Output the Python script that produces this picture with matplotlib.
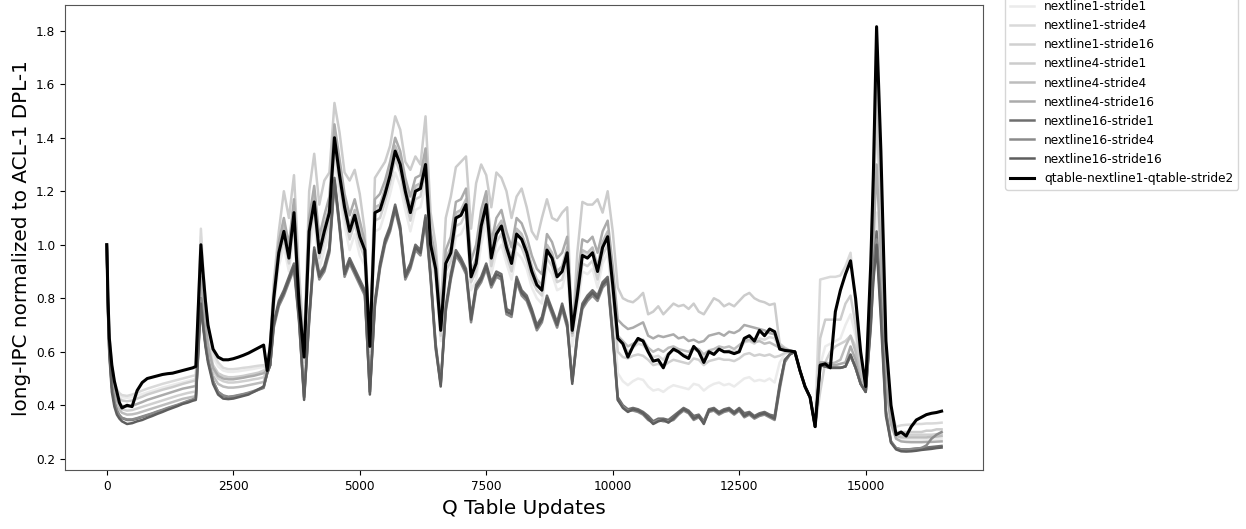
import numpy as np
import matplotlib
matplotlib.use("Agg")
import matplotlib.pyplot as plt

UPDATES = ([0, 25, 50, 100, 150, 200, 250] + list(range(300, 1800, 100)) + [1760]
           + [1860, 1900, 1950] + list(range(2000, 3200, 100)) + [3170]
           + [3230] + list(range(3300, 15200, 100))
           + [15150, 15215] + list(range(15300, 16600, 100)))

LABELS = ["nextline1-stride1", "nextline1-stride4", "nextline1-stride16",
          "nextline4-stride1", "nextline4-stride4", "nextline4-stride16",
          "nextline16-stride1", "nextline16-stride4", "nextline16-stride16",
          "qtable-nextline1-qtable-stride2"]

nl1_s1 = [
    1.0, 0.79, 0.66, 0.54, 0.48, 0.45, 0.435, 0.43, 0.428, 0.43, 0.436, 0.442, 0.448, 0.454, 0.46,
    0.466, 0.471, 0.476, 0.481, 0.486, 0.491, 0.496, 0.50,
    1.03, 0.90, 0.78, 0.68, 0.58, 0.545, 0.53, 0.525, 0.525, 0.527, 0.53, 0.533, 0.536, 0.54, 0.543, 0.53,
    0.60,
    0.76, 0.92, 0.99, 0.90, 1.05, 0.74, 0.55, 0.98, 1.09, 0.91,
    0.98, 1.05, 1.32, 1.18, 1.07, 0.98, 1.04, 0.96, 0.92, 0.58,
    1.05, 1.06, 1.12, 1.19, 1.27, 1.22, 1.13, 1.05, 1.13, 1.14,
    1.22, 0.94, 0.86, 0.64, 0.87, 0.91, 1.03, 1.04, 1.08, 0.83,
    0.87, 1.00, 1.08, 0.89, 0.97, 1.00, 0.93, 0.87, 0.97, 0.95,
    0.91, 0.84, 0.80, 0.78, 0.92, 0.89, 0.83, 0.84, 0.91, 0.62,
    0.76, 0.90, 0.89, 0.91, 0.84, 0.93, 0.97, 0.78, 0.52, 0.49,
    0.475, 0.49, 0.50, 0.495, 0.47, 0.455, 0.46, 0.45, 0.465, 0.475,
    0.47, 0.465, 0.46, 0.48, 0.475, 0.455, 0.47, 0.48, 0.485, 0.475,
    0.48, 0.47, 0.485, 0.50, 0.505, 0.49, 0.495, 0.49, 0.50, 0.485,
    0.56, 0.59, 0.60, 0.60, 0.53, 0.47, 0.43, 0.32, 0.55, 0.62,
    0.63, 0.64, 0.65, 0.70, 0.74, 0.66, 0.52, 0.46, 0.78,
    0.98, 1.12, 0.92, 0.47, 0.32, 0.28, 0.275, 0.273, 0.272, 0.272, 0.272, 0.273, 0.273, 0.274, 0.275]

nl1_s4 = [
    1.0, 0.80, 0.67, 0.55, 0.49, 0.46, 0.445, 0.438, 0.435, 0.44, 0.447, 0.455, 0.462, 0.468, 0.474,
    0.48, 0.485, 0.49, 0.495, 0.50, 0.505, 0.51, 0.512,
    1.06, 0.93, 0.80, 0.70, 0.60, 0.56, 0.54, 0.535, 0.535, 0.537, 0.54, 0.542, 0.545, 0.548, 0.55, 0.53,
    0.62,
    0.81, 0.98, 1.06, 0.96, 1.13, 0.79, 0.59, 1.06, 1.17, 0.98,
    1.06, 1.13, 1.41, 1.27, 1.15, 1.06, 1.12, 1.04, 0.99, 0.62,
    1.13, 1.14, 1.20, 1.27, 1.36, 1.31, 1.21, 1.13, 1.21, 1.22,
    1.31, 1.01, 0.92, 0.69, 0.94, 0.98, 1.11, 1.12, 1.16, 0.89,
    0.94, 1.08, 1.16, 0.96, 1.05, 1.08, 1.00, 0.94, 1.05, 1.03,
    0.98, 0.91, 0.86, 0.84, 0.99, 0.96, 0.89, 0.91, 0.98, 0.68,
    0.82, 0.97, 0.96, 0.98, 0.91, 1.00, 1.04, 0.86, 0.66, 0.63,
    0.60, 0.615, 0.63, 0.625, 0.60, 0.58, 0.585, 0.57, 0.595, 0.605,
    0.60, 0.59, 0.585, 0.61, 0.60, 0.575, 0.60, 0.595, 0.61, 0.60,
    0.605, 0.60, 0.605, 0.635, 0.64, 0.63, 0.65, 0.645, 0.655, 0.65,
    0.612, 0.606, 0.603, 0.60, 0.53, 0.47, 0.43, 0.32, 0.87, 0.875,
    0.88, 0.88, 0.885, 0.92, 0.97, 0.78, 0.55, 0.47, 0.92,
    1.3, 1.78, 1.3, 0.62, 0.38, 0.32, 0.325, 0.327, 0.328, 0.33, 0.33, 0.332, 0.332, 0.333, 0.335]

nl1_s16 = [
    1.0, 0.77, 0.63, 0.50, 0.44, 0.41, 0.395, 0.385, 0.38, 0.382, 0.388, 0.394, 0.40, 0.406, 0.412,
    0.418, 0.424, 0.43, 0.436, 0.441, 0.446, 0.45, 0.452,
    0.90, 0.80, 0.69, 0.61, 0.53, 0.50, 0.49, 0.485, 0.485, 0.487, 0.49, 0.493, 0.497, 0.50, 0.505, 0.53,
    0.61,
    0.78, 0.95, 1.02, 0.93, 1.09, 0.77, 0.56, 1.02, 1.13, 0.95,
    1.02, 1.09, 1.37, 1.23, 1.11, 1.02, 1.08, 1.00, 0.95, 0.60,
    1.09, 1.10, 1.16, 1.23, 1.32, 1.27, 1.17, 1.09, 1.17, 1.18,
    1.27, 0.97, 0.89, 0.66, 0.90, 0.94, 1.07, 1.08, 1.12, 0.86,
    0.90, 1.04, 1.12, 0.92, 1.01, 1.04, 0.96, 0.90, 1.01, 0.99,
    0.94, 0.87, 0.83, 0.81, 0.95, 0.92, 0.86, 0.87, 0.94, 0.66,
    0.79, 0.93, 0.92, 0.94, 0.87, 0.96, 1.00, 0.82, 0.60, 0.58,
    0.575, 0.585, 0.59, 0.585, 0.57, 0.55, 0.555, 0.545, 0.56, 0.57,
    0.565, 0.56, 0.555, 0.575, 0.57, 0.55, 0.565, 0.57, 0.575, 0.57,
    0.57, 0.565, 0.575, 0.59, 0.595, 0.585, 0.59, 0.585, 0.59, 0.58,
    0.585, 0.595, 0.60, 0.60, 0.53, 0.47, 0.43, 0.32, 0.45, 0.56,
    0.60, 0.62, 0.63, 0.64, 0.66, 0.62, 0.50, 0.45, 0.82,
    1.1, 1.55, 1.15, 0.56, 0.34, 0.29, 0.29, 0.29, 0.29, 0.29, 0.29, 0.29, 0.29, 0.292, 0.293]

nl4_s1 = [
    1.0, 0.79, 0.66, 0.53, 0.47, 0.44, 0.425, 0.418, 0.415, 0.418, 0.425, 0.432, 0.44, 0.446, 0.452,
    0.458, 0.463, 0.468, 0.474, 0.48, 0.485, 0.49, 0.493,
    0.95, 0.85, 0.73, 0.64, 0.55, 0.52, 0.51, 0.505, 0.505, 0.507, 0.51, 0.514, 0.518, 0.522, 0.53, 0.53,
    0.64,
    0.86, 1.05, 1.20, 1.10, 1.26, 0.90, 0.62, 1.20, 1.34, 1.15,
    1.24, 1.27, 1.53, 1.42, 1.27, 1.24, 1.28, 1.19, 1.05, 0.64,
    1.25, 1.28, 1.31, 1.37, 1.48, 1.43, 1.31, 1.28, 1.33, 1.30,
    1.48, 1.12, 1.00, 0.75, 1.10, 1.18, 1.29, 1.31, 1.33, 1.06,
    1.23, 1.30, 1.26, 1.14, 1.27, 1.25, 1.20, 1.10, 1.18, 1.21,
    1.14, 1.05, 1.02, 1.10, 1.17, 1.10, 1.09, 1.12, 1.14, 0.66,
    0.97, 1.16, 1.15, 1.15, 1.17, 1.12, 1.20, 1.05, 0.84, 0.80,
    0.79, 0.785, 0.80, 0.82, 0.74, 0.75, 0.77, 0.74, 0.76, 0.78,
    0.77, 0.775, 0.76, 0.78, 0.75, 0.74, 0.77, 0.80, 0.79, 0.77,
    0.78, 0.77, 0.79, 0.81, 0.82, 0.80, 0.79, 0.785, 0.775, 0.78,
    0.63, 0.615, 0.605, 0.60, 0.53, 0.47, 0.43, 0.32, 0.65, 0.72,
    0.72, 0.72, 0.72, 0.78, 0.81, 0.70, 0.52, 0.46, 0.85,
    1.15, 1.5, 1.10, 0.55, 0.36, 0.30, 0.30, 0.30, 0.30, 0.30, 0.30, 0.305, 0.305, 0.31, 0.31]

nl4_s4 = [
    1.0, 0.76, 0.62, 0.49, 0.43, 0.40, 0.383, 0.372, 0.365, 0.366, 0.37, 0.376, 0.382, 0.388, 0.394,
    0.40, 0.406, 0.412, 0.418, 0.424, 0.428, 0.432, 0.434,
    0.86, 0.77, 0.66, 0.58, 0.51, 0.48, 0.47, 0.466, 0.466, 0.468, 0.471, 0.475, 0.479, 0.483, 0.487, 0.53,
    0.62,
    0.80, 0.99, 1.07, 0.97, 1.14, 0.80, 0.59, 1.07, 1.18, 0.99,
    1.07, 1.14, 1.42, 1.28, 1.16, 1.07, 1.13, 1.05, 0.99, 0.62,
    1.14, 1.15, 1.21, 1.28, 1.37, 1.32, 1.22, 1.14, 1.22, 1.23,
    1.32, 1.02, 0.93, 0.69, 0.95, 0.99, 1.12, 1.13, 1.17, 0.90,
    0.95, 1.09, 1.17, 0.97, 1.06, 1.09, 1.01, 0.95, 1.06, 1.04,
    0.99, 0.92, 0.87, 0.85, 1.00, 0.97, 0.90, 0.92, 0.99, 0.67,
    0.83, 0.98, 0.97, 0.99, 0.92, 1.01, 1.05, 0.87, 0.66, 0.64,
    0.62, 0.63, 0.64, 0.645, 0.615, 0.60, 0.61, 0.60, 0.615, 0.62,
    0.61, 0.605, 0.60, 0.615, 0.61, 0.59, 0.605, 0.61, 0.62, 0.615,
    0.62, 0.61, 0.625, 0.64, 0.645, 0.635, 0.64, 0.63, 0.635, 0.625,
    0.615, 0.608, 0.604, 0.60, 0.53, 0.47, 0.43, 0.32, 0.56, 0.56,
    0.555, 0.56, 0.57, 0.62, 0.66, 0.60, 0.50, 0.45, 0.85,
    1.2, 1.7, 1.25, 0.60, 0.36, 0.285, 0.28, 0.28, 0.28, 0.28, 0.28, 0.28, 0.282, 0.283, 0.285]

nl4_s16 = [
    1.0, 0.78, 0.64, 0.51, 0.45, 0.42, 0.405, 0.398, 0.395, 0.398, 0.405, 0.412, 0.42, 0.426, 0.432,
    0.438, 0.444, 0.45, 0.456, 0.462, 0.466, 0.47, 0.472,
    0.88, 0.80, 0.70, 0.62, 0.54, 0.51, 0.50, 0.497, 0.497, 0.50, 0.503, 0.507, 0.51, 0.515, 0.52, 0.53,
    0.63,
    0.82, 1.01, 1.10, 1.00, 1.17, 0.82, 0.60, 1.10, 1.22, 1.03,
    1.11, 1.18, 1.45, 1.32, 1.19, 1.11, 1.17, 1.09, 1.01, 0.63,
    1.17, 1.19, 1.24, 1.31, 1.40, 1.35, 1.25, 1.18, 1.25, 1.26,
    1.36, 1.05, 0.95, 0.70, 0.98, 1.03, 1.16, 1.17, 1.21, 0.94,
    1.00, 1.13, 1.20, 1.01, 1.10, 1.13, 1.05, 0.99, 1.10, 1.08,
    1.03, 0.96, 0.91, 0.89, 1.04, 1.01, 0.95, 0.97, 1.03, 0.67,
    0.87, 1.02, 1.01, 1.03, 0.97, 1.05, 1.09, 0.92, 0.72, 0.70,
    0.685, 0.69, 0.70, 0.71, 0.66, 0.65, 0.66, 0.655, 0.66, 0.665,
    0.65, 0.655, 0.64, 0.645, 0.635, 0.64, 0.66, 0.665, 0.67, 0.66,
    0.675, 0.67, 0.68, 0.70, 0.695, 0.69, 0.685, 0.68, 0.67, 0.665,
    0.62, 0.61, 0.604, 0.60, 0.53, 0.47, 0.43, 0.32, 0.56, 0.56,
    0.55, 0.55, 0.555, 0.56, 0.62, 0.57, 0.48, 0.45, 0.80,
    1.0, 1.3, 0.95, 0.48, 0.33, 0.275, 0.265, 0.263, 0.262, 0.262, 0.262, 0.263, 0.263, 0.264, 0.265]

nl16_s1 = [
    1.0, 0.75, 0.60, 0.47, 0.41, 0.38, 0.362, 0.352, 0.345, 0.345, 0.35, 0.356, 0.362, 0.368, 0.375,
    0.381, 0.388, 0.394, 0.40, 0.407, 0.414, 0.42, 0.425,
    0.80, 0.71, 0.63, 0.57, 0.49, 0.45, 0.435, 0.43, 0.432, 0.436, 0.44, 0.445, 0.45, 0.458, 0.465, 0.52,
    0.55,
    0.71, 0.79, 0.83, 0.88, 0.93, 0.73, 0.43, 0.73, 0.99, 0.89,
    0.92, 0.99, 1.25, 1.08, 0.90, 0.95, 0.91, 0.87, 0.83, 0.45,
    0.79, 0.93, 1.02, 1.07, 1.15, 1.07, 0.89, 0.93, 1.00, 0.98,
    1.11, 0.89, 0.63, 0.48, 0.77, 0.89, 0.98, 0.95, 0.91, 0.73,
    0.85, 0.88, 0.93, 0.86, 0.90, 0.89, 0.76, 0.75, 0.88, 0.83,
    0.81, 0.76, 0.70, 0.73, 0.81, 0.76, 0.71, 0.78, 0.71, 0.49,
    0.67, 0.78, 0.81, 0.83, 0.81, 0.86, 0.88, 0.67, 0.43, 0.40,
    0.385, 0.39, 0.385, 0.375, 0.36, 0.34, 0.35, 0.35, 0.345, 0.36,
    0.375, 0.39, 0.38, 0.36, 0.365, 0.34, 0.385, 0.39, 0.375, 0.385,
    0.39, 0.375, 0.39, 0.37, 0.375, 0.36, 0.37, 0.375, 0.365, 0.36,
    0.48, 0.565, 0.59, 0.60, 0.53, 0.47, 0.43, 0.32, 0.55, 0.545,
    0.54, 0.54, 0.54, 0.545, 0.585, 0.54, 0.48, 0.45, 0.72,
    0.9, 1.05, 0.78, 0.38, 0.265, 0.24, 0.235, 0.235, 0.236, 0.238, 0.24, 0.242, 0.244, 0.246, 0.248]

nl16_s4 = [
    1.0, 0.75, 0.60, 0.47, 0.41, 0.38, 0.363, 0.353, 0.347, 0.347, 0.352, 0.358, 0.364, 0.37, 0.377,
    0.383, 0.39, 0.396, 0.402, 0.409, 0.416, 0.422, 0.428,
    0.80, 0.71, 0.63, 0.57, 0.49, 0.45, 0.437, 0.432, 0.434, 0.438, 0.442, 0.447, 0.453, 0.46, 0.468, 0.52,
    0.55,
    0.69, 0.77, 0.81, 0.86, 0.91, 0.71, 0.43, 0.71, 0.97, 0.87,
    0.90, 0.97, 1.23, 1.06, 0.88, 0.93, 0.89, 0.85, 0.81, 0.45,
    0.77, 0.91, 1.00, 1.05, 1.13, 1.05, 0.87, 0.91, 0.98, 0.96,
    1.09, 0.87, 0.61, 0.48, 0.75, 0.87, 0.96, 0.93, 0.89, 0.71,
    0.83, 0.86, 0.91, 0.84, 0.88, 0.87, 0.74, 0.73, 0.86, 0.81,
    0.79, 0.74, 0.68, 0.71, 0.79, 0.74, 0.69, 0.76, 0.69, 0.49,
    0.65, 0.76, 0.79, 0.81, 0.79, 0.84, 0.86, 0.65, 0.42, 0.395,
    0.38, 0.38, 0.375, 0.365, 0.345, 0.335, 0.345, 0.34, 0.34, 0.345,
    0.365, 0.38, 0.37, 0.345, 0.355, 0.335, 0.375, 0.38, 0.365, 0.375,
    0.38, 0.365, 0.38, 0.355, 0.365, 0.35, 0.36, 0.365, 0.355, 0.345,
    0.46, 0.56, 0.59, 0.60, 0.53, 0.47, 0.43, 0.32, 0.55, 0.545,
    0.54, 0.54, 0.54, 0.545, 0.585, 0.54, 0.48, 0.45, 0.69,
    0.88, 1.02, 0.75, 0.37, 0.262, 0.24, 0.235, 0.235, 0.236, 0.238, 0.24, 0.25, 0.275, 0.29, 0.30]

nl16_s16 = [
    1.0, 0.74, 0.59, 0.45, 0.395, 0.365, 0.35, 0.34, 0.33, 0.333, 0.34, 0.345, 0.353, 0.36, 0.368,
    0.375, 0.383, 0.39, 0.397, 0.405, 0.41, 0.417, 0.42,
    0.78, 0.70, 0.62, 0.56, 0.48, 0.44, 0.425, 0.423, 0.425, 0.43, 0.435, 0.44, 0.45, 0.46, 0.47, 0.52,
    0.55,
    0.70, 0.78, 0.82, 0.87, 0.92, 0.72, 0.42, 0.72, 0.98, 0.88,
    0.91, 0.98, 1.24, 1.07, 0.89, 0.94, 0.90, 0.86, 0.82, 0.44,
    0.78, 0.92, 1.01, 1.06, 1.14, 1.06, 0.88, 0.92, 0.99, 0.97,
    1.10, 0.88, 0.62, 0.47, 0.76, 0.88, 0.97, 0.94, 0.90, 0.72,
    0.84, 0.87, 0.92, 0.85, 0.89, 0.88, 0.75, 0.74, 0.87, 0.82,
    0.80, 0.75, 0.69, 0.72, 0.80, 0.75, 0.70, 0.77, 0.70, 0.48,
    0.66, 0.77, 0.80, 0.82, 0.80, 0.85, 0.87, 0.66, 0.42, 0.39,
    0.375, 0.385, 0.38, 0.37, 0.35, 0.33, 0.34, 0.345, 0.335, 0.35,
    0.37, 0.385, 0.375, 0.35, 0.36, 0.33, 0.38, 0.385, 0.37, 0.38,
    0.385, 0.37, 0.385, 0.36, 0.37, 0.355, 0.365, 0.37, 0.36, 0.35,
    0.47, 0.57, 0.59, 0.60, 0.53, 0.47, 0.43, 0.32, 0.55, 0.545,
    0.54, 0.54, 0.54, 0.545, 0.59, 0.54, 0.48, 0.45, 0.70,
    0.86, 1.0, 0.72, 0.36, 0.26, 0.235, 0.228, 0.227, 0.228, 0.23, 0.233, 0.235, 0.237, 0.24, 0.242]

qtable = [
    1.0, 0.79, 0.65, 0.55, 0.49, 0.45, 0.41, 0.39, 0.40, 0.395, 0.455, 0.485, 0.50, 0.505, 0.51,
    0.515, 0.518, 0.52, 0.525, 0.53, 0.535, 0.54, 0.545,
    1.0, 0.90, 0.79, 0.70, 0.61, 0.58, 0.57, 0.57, 0.574, 0.58, 0.587, 0.595, 0.605, 0.615, 0.625, 0.53,
    0.62,
    0.80, 0.97, 1.05, 0.95, 1.12, 0.78, 0.58, 1.05, 1.16, 0.97,
    1.05, 1.12, 1.40, 1.26, 1.14, 1.05, 1.11, 1.03, 0.98, 0.62,
    1.12, 1.13, 1.19, 1.26, 1.35, 1.30, 1.20, 1.12, 1.20, 1.21,
    1.30, 1.00, 0.91, 0.68, 0.93, 0.97, 1.10, 1.11, 1.15, 0.88,
    0.93, 1.07, 1.15, 0.95, 1.04, 1.07, 0.99, 0.93, 1.04, 1.02,
    0.97, 0.90, 0.85, 0.83, 0.98, 0.95, 0.88, 0.90, 0.97, 0.68,
    0.81, 0.96, 0.95, 0.97, 0.90, 0.99, 1.03, 0.85, 0.65, 0.63,
    0.58, 0.62, 0.65, 0.64, 0.60, 0.565, 0.57, 0.54, 0.59, 0.61,
    0.60, 0.585, 0.575, 0.62, 0.60, 0.56, 0.60, 0.59, 0.61, 0.60,
    0.60, 0.593, 0.60, 0.65, 0.66, 0.64, 0.68, 0.66, 0.685, 0.675,
    0.61, 0.605, 0.603, 0.60, 0.53, 0.47, 0.43, 0.32, 0.55, 0.555,
    0.54, 0.75, 0.83, 0.89, 0.94, 0.80, 0.60, 0.47, 0.93,
    1.25, 1.815, 1.35, 0.64, 0.40, 0.29, 0.30, 0.285, 0.32, 0.345, 0.355, 0.365, 0.37, 0.373, 0.378]

COLORS = ["#ebebeb", "#d9d9d9", "#d0d0d0", "#cccccc", "#bdbdbd", "#ababab",
          "#6e6e6e", "#8a8a8a", "#5e5e5e", "#000000"]


def main():
    series = [nl1_s1, nl1_s4, nl1_s16, nl4_s1, nl4_s4, nl4_s16,
              nl16_s1, nl16_s4, nl16_s16, qtable]
    for s in series:
        assert len(s) == len(UPDATES), len(s)
    makeplot(series)


def makeplot(series):
    fig = plt.figure(figsize=(12.46, 5.29), dpi=100)
    ax = fig.add_axes([0.0522, 0.111, 0.737, 0.879])

    x = np.array(UPDATES)
    for vals, label, color in zip(series, LABELS, COLORS):
        lw = 2.2 if color == "#000000" else 1.8
        ax.plot(x, vals, color=color, lw=lw, label=label)

    ax.set_xlim(-825, 17325)
    ax.set_ylim(0.157, 1.895)
    ax.set_xticks([0, 2500, 5000, 7500, 10000, 12500, 15000])
    ax.set_yticks([0.2, 0.4, 0.6, 0.8, 1.0, 1.2, 1.4, 1.6, 1.8])
    ax.tick_params(labelsize=8.7)
    for sp in ax.spines.values():
        sp.set_color("#555555")

    ax.set_xlabel("Q Table Updates", fontsize=14.4)
    ax.set_ylabel("long-IPC normalized to ACL-1 DPL-1", fontsize=14.4)

    # legend sits outside the axes, its top row clipped by the figure edge
    ax.legend(loc="upper left", bbox_to_anchor=(1.024, 1.021), borderaxespad=0,
              fontsize=8.7)

    fig.savefig("out.png", dpi=100)


if __name__ == "__main__":
    main()
